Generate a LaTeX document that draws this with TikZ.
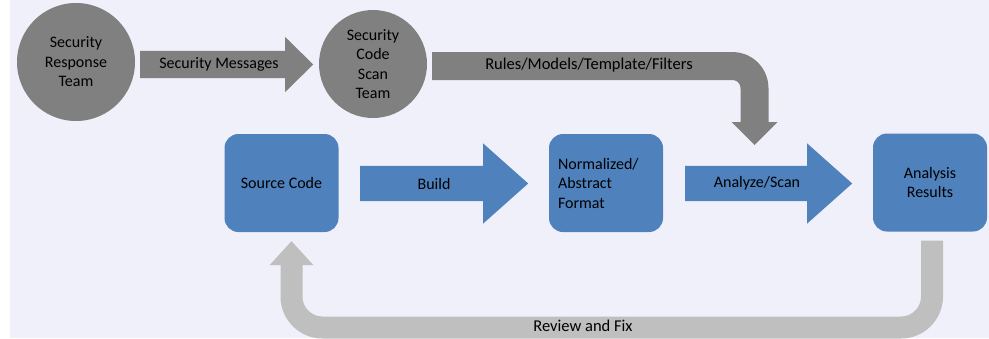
\documentclass[tikz,border=0pt]{standalone}
\usepackage{fontspec}
\setmainfont{Carlito}
\usetikzlibrary{shapes.arrows,arrows.meta}

\definecolor{bgtint}{HTML}{F0F0FA}
\definecolor{teamgray}{HTML}{808080}
\definecolor{stageblue}{HTML}{4F81BD}
\definecolor{loopgray}{HTML}{BFBFBF}

\begin{document}
\begin{tikzpicture}[x=1pt,y=-1pt,
    font=\fontsize{16}{19.5}\selectfont,
    team/.style={circle,fill=teamgray,inner sep=0pt,align=center},
    stage/.style={rectangle,rounded corners=14pt,fill=stageblue,inner sep=0pt,
                  minimum width=114pt,minimum height=98pt,align=center},
    % shaft width = 2 x inner ysep, since the arrows carry no text
    fatarrow/.style={single arrow,inner xsep=0pt,anchor=tail,single arrow head indent=0pt},
    bentarrow/.style={line width=#1,line join=round}]
    \useasboundingbox (0,0) rectangle (989,338);
    \fill[bgtint] (10,0) rectangle (989,338);

    % teams
    \node[team,minimum size=118pt] (response) at (76,62) {Security\\Response\\Team};
    \node[team,minimum size=108pt] (scan) at (373,64) {Security\\Code\\Scan\\Team};

    % pipeline stages
    \node[stage] (source) at (281.5,183) {Source Code};
    \node[stage,align=left,text width=96pt] (normal) at (606,183) {Normalized/\\Abstract\\Format};
    \node[stage] (results) at (930,182.5) {Analysis\\Results};

    % straight block arrows
    \node[fatarrow,fill=teamgray,inner ysep=13.5pt,minimum height=173pt,
          single arrow head extend=14pt,single arrow tip angle=89] (messages) at (140,64.5) {};
    \node[fatarrow,fill=stageblue,inner ysep=17.5pt,minimum height=168pt,
          single arrow head extend=22.5pt,single arrow tip angle=83.3] (build) at (360,183.5) {};
    \node[fatarrow,fill=stageblue,inner ysep=17.5pt,minimum height=167pt,
          single arrow head extend=22.5pt,single arrow tip angle=83.3] (analyze) at (685,183.5) {};

    \node (messages-text) at (219,64.5) {Security Messages};
    \node (build-text) at (434,183.5) {Build};
    \node (analyze-text) at (757,183.5) {Analyze/Scan};

    % rules feed into the scan step
    \coordinate (rules-end) at (754.5,145);
    \draw[bentarrow=28pt,teamgray,rounded corners=22pt,
          -{Triangle[length=23pt,width=46pt,line width=0pt]}]
        ([xshift=5pt,yshift=-2pt]scan.east) -| (rules-end);
    \node[font=\fontsize{16.5}{19.5}\selectfont] (rules-text) at (589,65.5) {Rules/Models/Template/Filters};

    % review loop back to the source
    \draw[bentarrow=22pt,loopgray,rounded corners=31pt,
          -{Triangle[length=24pt,width=44pt,line width=0pt]}]
        ([xshift=2pt,yshift=-9pt]results.south) |- (583,327.5)
        -| ([xshift=10pt,yshift=-9pt]source.south);
    \node[font=\fontsize{16.5}{19.5}\selectfont] (review-text) at (583,326) {Review and Fix};
\end{tikzpicture}
\end{document}
